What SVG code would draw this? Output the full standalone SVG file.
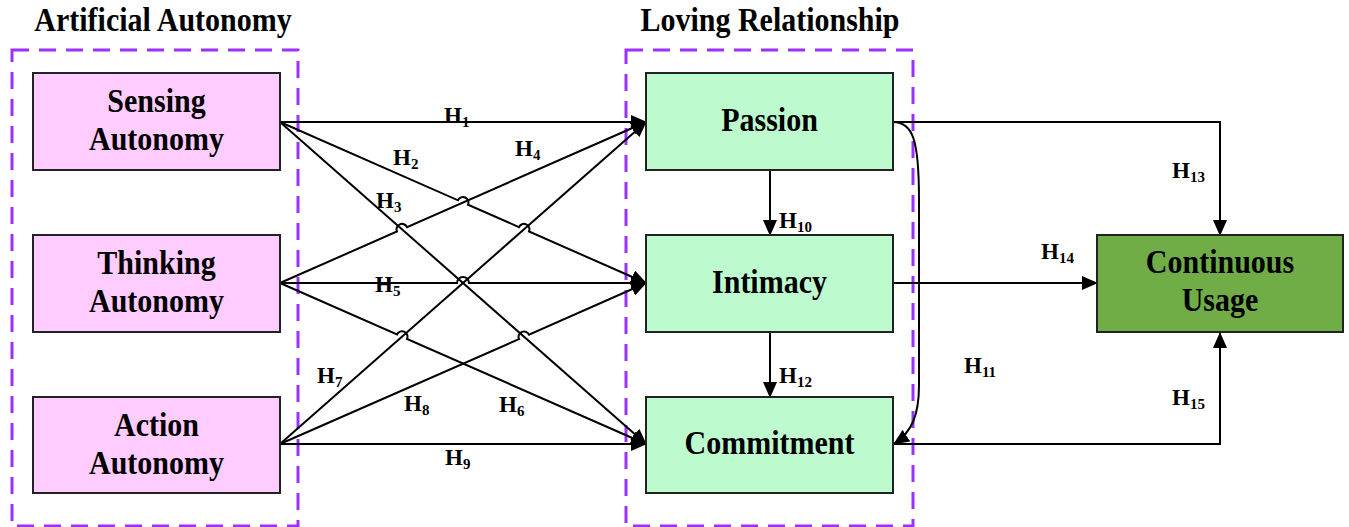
<svg xmlns="http://www.w3.org/2000/svg" width="1349" height="527" viewBox="0 0 1349 527">
<style>
.t{font-family:"Liberation Serif","Times New Roman",serif;font-weight:bold;fill:#000}
.title{font-size:30px;text-anchor:middle}
.n{font-size:30px;text-anchor:middle}
.h{font-size:23px}
.s{font-size:15px}
.grp{fill:none;stroke:#9B30FF;stroke-width:3;stroke-dasharray:17 10}
.pink{fill:#FFCCFF;stroke:#222;stroke-width:2}
.green{fill:#BDFBCF;stroke:#222;stroke-width:2}
.dark{fill:#70AD47;stroke:#222;stroke-width:2}
.c{fill:none;stroke:#000;stroke-width:2}
</style>
<defs>
<marker id="ah" markerUnits="userSpaceOnUse" markerWidth="16" markerHeight="14" refX="15" refY="7" orient="auto">
<path d="M0,0 L16,7 L0,14 Z" fill="#000"/>
</marker>
</defs>
<rect width="1349" height="527" fill="#fff"/>

<g id="group-artificial">
<rect class="grp" x="12" y="50" width="286" height="476"/>
<text class="t title" transform="translate(163,31) scale(1,1.1)">Artificial Autonomy</text>
</g>
<g id="group-loving">
<rect class="grp" x="626" y="50" width="287" height="476"/>
<text class="t title" transform="translate(770,31) scale(1,1.1)">Loving Relationship</text>
</g>

<g id="connectors">
<path class="c" marker-end="url(#ah)" d="M280,122 L646,122"/>
<path class="c" marker-end="url(#ah)" d="M280,122 L458,200.3 A5,5 0 0 1 468,204.7 L519,227.1 A5,5 0 0 1 529,231.5 L646,283"/>
<path class="c" marker-end="url(#ah)" d="M280,122 L646,444"/>
<path class="c" marker-end="url(#ah)" d="M280,283 L397,231.5 A5,5 0 0 1 407,227.1 L646,122"/>
<path class="c" marker-end="url(#ah)" d="M280,283 L457,283 A6,6 0 0 1 469,283 L646,283"/>
<path class="c" marker-end="url(#ah)" d="M280,283 L397,334.5 A5,5 0 0 1 407,338.9 L646,444"/>
<path class="c" marker-end="url(#ah)" d="M280,444 L646,122"/>
<path class="c" marker-end="url(#ah)" d="M280,444 L519,339.1 A5,5 0 0 1 529,334.7 L646,283"/>
<path class="c" marker-end="url(#ah)" d="M280,444 L646,444"/>
<path class="c" marker-end="url(#ah)" d="M770,170 L770,235"/>
<path class="c" marker-end="url(#ah)" d="M770,332 L770,397"/>
<path class="c" marker-end="url(#ah)" d="M893,122 C913,122 919,140 919,200 L919,385 C919,415 912,432 894,444"/>
<path class="c" marker-end="url(#ah)" d="M893,122 L1220,122 L1220,235"/>
<path class="c" marker-end="url(#ah)" d="M893,283 L1097,283"/>
<path class="c" marker-end="url(#ah)" d="M893,444 L1220,444 L1220,333"/>

<g class="t h">
<text x="444" y="123">H<tspan class="s" dy="4">1</tspan></text>
<text x="393" y="165">H<tspan class="s" dy="4">2</tspan></text>
<text x="376" y="208">H<tspan class="s" dy="4">3</tspan></text>
<text x="515" y="156">H<tspan class="s" dy="4">4</tspan></text>
<text x="375" y="292">H<tspan class="s" dy="4">5</tspan></text>
<text x="499" y="412">H<tspan class="s" dy="4">6</tspan></text>
<text x="317" y="383">H<tspan class="s" dy="4">7</tspan></text>
<text x="404" y="411">H<tspan class="s" dy="4">8</tspan></text>
<text x="445" y="465">H<tspan class="s" dy="4">9</tspan></text>
<text x="779" y="228">H<tspan class="s" dy="4">10</tspan></text>
<text x="964" y="373">H<tspan class="s" dy="4">11</tspan></text>
<text x="779" y="383">H<tspan class="s" dy="4">12</tspan></text>
<text x="1172" y="178">H<tspan class="s" dy="4">13</tspan></text>
<text x="1041" y="259">H<tspan class="s" dy="4">14</tspan></text>
<text x="1172" y="405">H<tspan class="s" dy="4">15</tspan></text>
</g>
</g>

<g id="sensing">
<rect class="pink" x="33" y="73" width="247" height="97"/>
<text class="t n" transform="translate(156.5,112) scale(1,1.1)">Sensing</text>
<text class="t n" transform="translate(156.5,150) scale(1,1.1)">Autonomy</text>
</g>
<g id="thinking">
<rect class="pink" x="33" y="235" width="247" height="97"/>
<text class="t n" transform="translate(156.5,274) scale(1,1.1)">Thinking</text>
<text class="t n" transform="translate(156.5,312) scale(1,1.1)">Autonomy</text>
</g>
<g id="action">
<rect class="pink" x="33" y="397" width="247" height="96"/>
<text class="t n" transform="translate(156.5,436) scale(1,1.1)">Action</text>
<text class="t n" transform="translate(156.5,474) scale(1,1.1)">Autonomy</text>
</g>
<g id="passion">
<rect class="green" x="646" y="73" width="247" height="97"/>
<text class="t n" transform="translate(769.5,131) scale(1,1.1)">Passion</text>
</g>
<g id="intimacy">
<rect class="green" x="646" y="235" width="247" height="97"/>
<text class="t n" transform="translate(769.5,293) scale(1,1.1)">Intimacy</text>
</g>
<g id="commitment">
<rect class="green" x="646" y="397" width="247" height="96"/>
<text class="t n" transform="translate(769.5,454) scale(1,1.1)">Commitment</text>
</g>
<g id="continuous-usage">
<rect class="dark" x="1097" y="235" width="246" height="97"/>
<text class="t n" transform="translate(1220,273) scale(1,1.1)">Continuous</text>
<text class="t n" transform="translate(1220,311) scale(1,1.1)">Usage</text>
</g>
</svg>
